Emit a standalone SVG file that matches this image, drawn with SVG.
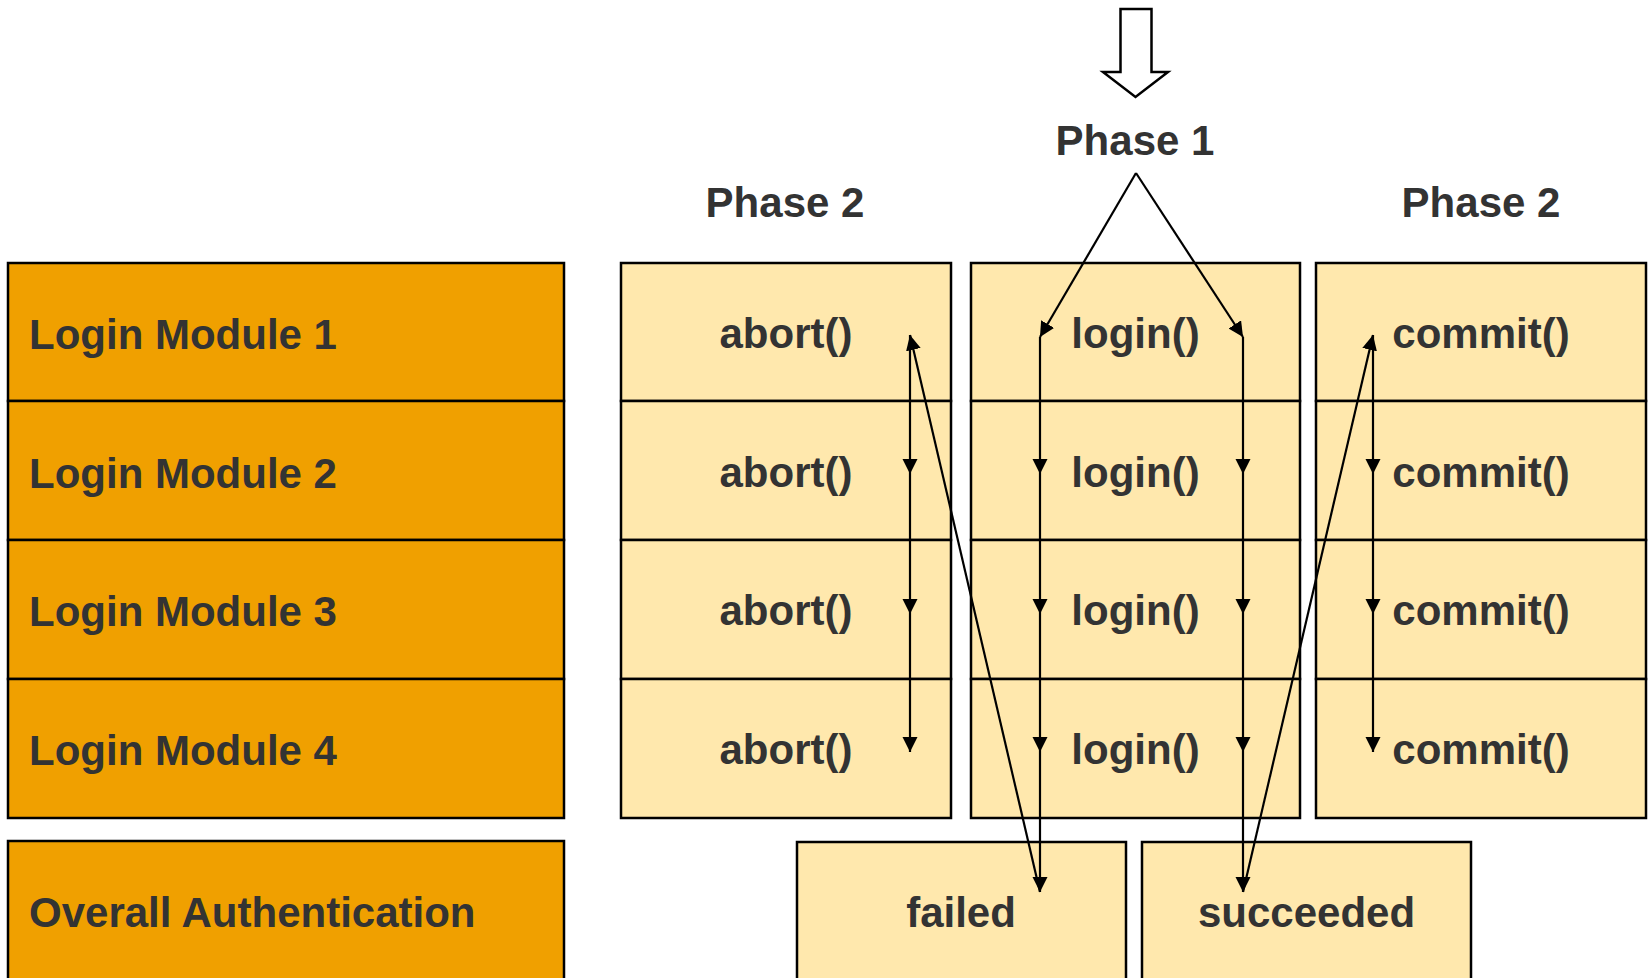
<svg xmlns="http://www.w3.org/2000/svg" width="1648" height="978" viewBox="0 0 1648 978">
<style>
.t{font-family:"Liberation Sans",Arial,sans-serif;font-weight:bold;font-size:42px;fill:#333333}
.c{text-anchor:middle}
.or{fill:#F0A000;stroke:#000;stroke-width:2.5}
.ye{fill:#FFE8AD;stroke:#000;stroke-width:2.5}
.ln{stroke:#000;stroke-width:2.2;fill:none;marker-end:url(#ah)}
</style>
<defs>
<marker id="ah" markerUnits="userSpaceOnUse" markerWidth="16" markerHeight="16" refX="15" refY="7.5" orient="auto">
<path d="M0,0 L15,7.5 L0,15 z" fill="#000"/>
</marker>
</defs>
<rect width="1648" height="978" fill="#fff"/>
<g id="labels">
<text class="t c" x="1135" y="155">Phase 1</text>
<text class="t c" x="785" y="217">Phase 2</text>
<text class="t c" x="1481" y="217">Phase 2</text>
</g>
<g id="entry-arrow">
<polygon points="1120.5,9 1151.5,9 1151.5,72 1168,72 1135.5,97 1103,72 1120.5,72" fill="#fff" stroke="#000" stroke-width="2.5"/>
</g>
<g id="lm1"><rect class="or" x="8" y="263" width="556" height="138"/><text class="t" x="29" y="349">Login Module 1</text></g>
<g id="lm2"><rect class="or" x="8" y="401" width="556" height="139"/><text class="t" x="29" y="488">Login Module 2</text></g>
<g id="lm3"><rect class="or" x="8" y="540" width="556" height="139"/><text class="t" x="29" y="626">Login Module 3</text></g>
<g id="lm4"><rect class="or" x="8" y="679" width="556" height="139"/><text class="t" x="29" y="765">Login Module 4</text></g>
<g id="overall"><rect class="or" x="8" y="841" width="556" height="160"/><text class="t" x="29" y="927">Overall Authentication</text></g>
<g id="abort1"><rect class="ye" x="621" y="263" width="330" height="138"/><text class="t c" x="786" y="348">abort()</text></g>
<g id="abort2"><rect class="ye" x="621" y="401" width="330" height="139"/><text class="t c" x="786" y="487">abort()</text></g>
<g id="abort3"><rect class="ye" x="621" y="540" width="330" height="139"/><text class="t c" x="786" y="625">abort()</text></g>
<g id="abort4"><rect class="ye" x="621" y="679" width="330" height="139"/><text class="t c" x="786" y="764">abort()</text></g>
<g id="login1"><rect class="ye" x="971" y="263" width="329" height="138"/><text class="t c" x="1135.5" y="348">login()</text></g>
<g id="login2"><rect class="ye" x="971" y="401" width="329" height="139"/><text class="t c" x="1135.5" y="487">login()</text></g>
<g id="login3"><rect class="ye" x="971" y="540" width="329" height="139"/><text class="t c" x="1135.5" y="625">login()</text></g>
<g id="login4"><rect class="ye" x="971" y="679" width="329" height="139"/><text class="t c" x="1135.5" y="764">login()</text></g>
<g id="commit1"><rect class="ye" x="1316" y="263" width="330" height="138"/><text class="t c" x="1481" y="348">commit()</text></g>
<g id="commit2"><rect class="ye" x="1316" y="401" width="330" height="139"/><text class="t c" x="1481" y="487">commit()</text></g>
<g id="commit3"><rect class="ye" x="1316" y="540" width="330" height="139"/><text class="t c" x="1481" y="625">commit()</text></g>
<g id="commit4"><rect class="ye" x="1316" y="679" width="330" height="139"/><text class="t c" x="1481" y="764">commit()</text></g>
<g id="failed"><rect class="ye" x="797" y="842" width="329" height="160"/><text class="t c" x="961" y="927">failed</text></g>
<g id="succeeded"><rect class="ye" x="1142" y="842" width="329" height="160"/><text class="t c" x="1306.5" y="927">succeeded</text></g>
<g id="connectors">
<path class="ln" d="M1136,173 L1040,337"/>
<path class="ln" d="M1136,173 L1243,337"/>
<path class="ln" d="M1040,337 L1040,474"/>
<path class="ln" d="M1040,474 L1040,614"/>
<path class="ln" d="M1040,614 L1040,752"/>
<path class="ln" d="M1040,752 L1040,892"/>
<path class="ln" d="M1243,337 L1243,474"/>
<path class="ln" d="M1243,474 L1243,614"/>
<path class="ln" d="M1243,614 L1243,752"/>
<path class="ln" d="M1243,752 L1243,892"/>
<path class="ln" d="M910,335 L910,474"/>
<path class="ln" d="M910,474 L910,614"/>
<path class="ln" d="M910,614 L910,752"/>
<path class="ln" d="M1040,892 L910,335"/>
<path class="ln" d="M1373,335 L1373,474"/>
<path class="ln" d="M1373,474 L1373,614"/>
<path class="ln" d="M1373,614 L1373,752"/>
<path class="ln" d="M1243,892 L1373,335"/>
</g>
</svg>
